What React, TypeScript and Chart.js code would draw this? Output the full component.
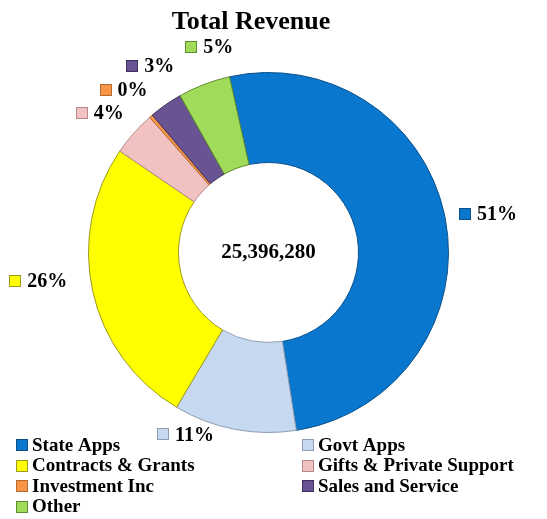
import React, { useEffect, useRef } from "react";
import { Chart, registerables } from "chart.js";

Chart.register(...registerables);

const TITLE = "Total Revenue";
const CENTER_TEXT = "25,396,280";
const categories = [
  "State Apps",
  "Govt Apps",
  "Contracts & Grants",
  "Gifts & Private Support",
  "Investment Inc",
  "Sales and Service",
  "Other",
];
const revenue = [12952100, 2793600, 6603000, 1015850, 76190, 762000, 1193540];
const percentLabels = ["51%", "11%", "26%", "4%", "0%", "3%", "5%"];

const fillColors = ["#0A77CF", "#C6D9F1", "#FFFF00", "#F2C2C2", "#F79646", "#6A5393", "#A0DC5A"];
const edgeColors = ["#0A4F8A", "#8E9CB0", "#9A9A20", "#B48A88", "#B86A2A", "#3E2E5A", "#5E8A30"];

// label placement tweaks (degrees, px beyond outer radius) — styling only
const labelNudgeDeg = [0.7, 13.6, 5.5, -1.9, -0.9, 2.5, 4.9];
const labelGap = [43, 20, 52, 39, 38, 41, 34];

const FONT = "'Liberation Serif', 'Times New Roman', serif";

const overlayPlugin = {
  id: "overlay",
  afterDraw(chart: any) {
    const ctx: CanvasRenderingContext2D = chart.ctx;
    const meta = chart.getDatasetMeta(0);
    ctx.save();

    // title
    ctx.fillStyle = "#000";
    ctx.font = `bold 26px ${FONT}`;
    ctx.textAlign = "center";
    ctx.textBaseline = "alphabetic";
    ctx.fillText(TITLE, 251, 29);

    const drawBox = (x: number, y: number, fill: string, edge: string) => {
      ctx.fillStyle = fill;
      ctx.fillRect(x, y, 12, 12);
      ctx.strokeStyle = edge;
      ctx.lineWidth = 1;
      ctx.strokeRect(x + 0.5, y + 0.5, 11, 11);
    };

    // center text
    const arc0 = meta.data[0];
    const cx = arc0.x;
    const cy = arc0.y;
    ctx.fillStyle = "#000";
    ctx.font = `bold 21px ${FONT}`;
    ctx.textAlign = "center";
    ctx.textBaseline = "middle";
    ctx.fillText(CENTER_TEXT, cx, cy);

    // data labels
    ctx.font = `bold 20px ${FONT}`;
    meta.data.forEach((arc: any, i: number) => {
      const p = arc.getProps(["startAngle", "endAngle", "outerRadius"], true);
      const mid = (p.startAngle + p.endAngle) / 2 + (labelNudgeDeg[i] * Math.PI) / 180;
      const r = p.outerRadius + labelGap[i];
      const lx = cx + Math.cos(mid) * r;
      const ly = cy + Math.sin(mid) * r;
      const text = percentLabels[i];
      const tw = ctx.measureText(text).width;
      const total = 12 + 6 + tw;
      const left = lx - total / 2;
      drawBox(Math.round(left), Math.round(ly - 6), fillColors[i], edgeColors[i]);
      ctx.fillStyle = "#000";
      ctx.textAlign = "left";
      ctx.textBaseline = "middle";
      ctx.fillText(text, left + 18, ly + 1);
    });

    // legend (2 columns)
    ctx.font = `bold 19px ${FONT}`;
    const colX = [16, 302];
    const rowY = [445, 465.5, 486, 506.5];
    chart.data.labels.forEach((lab: string, i: number) => {
      const col = i % 2;
      const row = Math.floor(i / 2);
      const x = colX[col];
      const y = rowY[row];
      drawBox(x, Math.round(y - 6), fillColors[i], edgeColors[i]);
      ctx.fillStyle = "#000";
      ctx.textAlign = "left";
      ctx.textBaseline = "middle";
      ctx.fillText(lab, x + 16, y + 1);
    });

    ctx.restore();
  },
};

export default function App() {
  const canvasRef = useRef<HTMLCanvasElement | null>(null);

  useEffect(() => {
    const canvas = canvasRef.current;
    if (!canvas) return;
    const chart = new Chart(canvas, {
      type: "doughnut",
      data: {
        labels: categories,
        datasets: [
          {
            data: revenue,
            backgroundColor: fillColors,
            borderColor: edgeColors,
            borderWidth: 1,
            hoverOffset: 0,
          },
        ],
      },
      options: {
        animation: false,
        responsive: false,
        rotation: -12.5,
        cutout: "50%",
        layout: { padding: { left: 88, right: 98, top: 72, bottom: 86 } },
        plugins: {
          legend: { display: false },
          title: { display: false },
          tooltip: { enabled: false },
        },
      },
      plugins: [overlayPlugin],
    });
    return () => chart.destroy();
  }, []);

  return (
    <div style={{ position: "fixed", left: 0, top: 0, width: 547, height: 519, background: "#fff" }}>
      <canvas ref={canvasRef} width={547} height={519} style={{ width: 547, height: 519 }} />
    </div>
  );
}
